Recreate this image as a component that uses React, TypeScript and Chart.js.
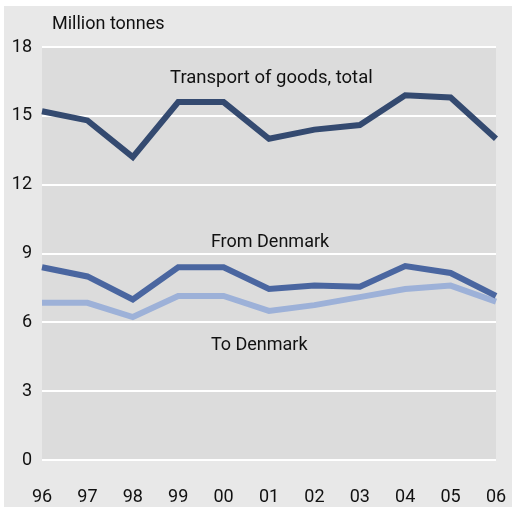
import React, { useEffect, useRef } from "react";
import { Chart, registerables } from "chart.js";

Chart.register(...registerables);

const years = ["96", "97", "98", "99", "00", "01", "02", "03", "04", "05", "06"];
const totalGoods = [15.2, 14.8, 13.2, 15.6, 15.6, 14.0, 14.4, 14.6, 15.9, 15.8, 14.0];
const fromDenmark = [8.4, 8.0, 7.0, 8.4, 8.4, 7.45, 7.6, 7.55, 8.45, 8.15, 7.15];
const toDenmark = [6.85, 6.85, 6.23, 7.15, 7.15, 6.5, 6.75, 7.1, 7.45, 7.6, 6.9];
const yTicks = [0, 3, 6, 9, 12, 15, 18];

const FONT = "Roboto";

const bgPlugin = {
  id: "bgPlugin",
  beforeDraw(chart: any) {
    const { ctx, chartArea } = chart;
    ctx.save();
    ctx.fillStyle = "#ffffff";
    ctx.fillRect(0, 0, chart.width, chart.height);
    ctx.fillStyle = "#e8e8e8";
    ctx.fillRect(4, 6, 508, 501);
    ctx.fillStyle = "#dcdcdc";
    ctx.fillRect(chartArea.left, chartArea.top, chartArea.right - chartArea.left, chartArea.bottom - chartArea.top);
    ctx.restore();
  },
  afterDatasetsDraw(chart: any) {
    const { ctx } = chart;
    const xs = chart.scales.x;
    const ys = chart.scales.y;
    ctx.save();
    ctx.fillStyle = "#111111";
    ctx.font = `18px ${FONT}`;
    ctx.textBaseline = "middle";
    ctx.textAlign = "left";
    ctx.fillText("Million tonnes", 52, 24);
    const lbl = (t: string, xi: number, yv: number, size: number) => {
      ctx.font = `${size}px ${FONT}`;
      const x = xs.left + (xs.right - xs.left) * (xi / (years.length - 1));
      ctx.fillText(t, x, ys.getPixelForValue(yv));
    };
    lbl("Transport of goods, total", 2.82, 16.65, 18.5);
    lbl("From Denmark", 3.72, 9.5, 18);
    lbl("To Denmark", 3.72, 5.0, 18);
    ctx.restore();
  },
};

export default function App() {
  const ref = useRef<HTMLCanvasElement>(null);
  useEffect(() => {
    if (!ref.current) return;
    const chart = new Chart(ref.current, {
      type: "line",
      data: {
        labels: years,
        datasets: [
          { label: "Transport of goods, total", data: totalGoods, borderColor: "#344a70" },
          { label: "From Denmark", data: fromDenmark, borderColor: "#4a66a0" },
          { label: "To Denmark", data: toDenmark, borderColor: "#9db1d8" },
        ].map((d) => ({
          ...d,
          borderWidth: 6,
          pointRadius: 0,
          tension: 0,
          fill: false,
          borderJoinStyle: "miter" as const,
          borderCapStyle: "butt" as const,
        })),
      },
      options: {
        animation: false,
        responsive: false,
        maintainAspectRatio: false,
        layout: { padding: { top: 47, right: 20, left: 0, bottom: 0 } },
        plugins: { legend: { display: false }, tooltip: { enabled: false } },
        scales: {
          x: {
            grid: { display: false },
            border: { display: false },
            offset: false,
            ticks: { color: "#111", font: { family: FONT, size: 18 }, padding: 19, maxRotation: 0, autoSkip: false },
            afterFit(scale: any) {
              scale.height = 49;
              scale.paddingLeft = 0;
              scale.paddingRight = 0;
            },
          },
          y: {
            min: 0,
            max: 18,
            afterBuildTicks(scale: any) {
              scale.ticks = yTicks.map((v) => ({ value: v }));
            },
            grid: { color: "#ffffff", lineWidth: 2, drawTicks: false },
            border: { display: false },
            ticks: { color: "#111", font: { family: FONT, size: 18 }, padding: 10 },
            afterFit(scale: any) {
              scale.width = 42;
              scale.paddingTop = 0;
              scale.paddingBottom = 0;
            },
          },
        },
      },
      plugins: [bgPlugin],
    });
    return () => chart.destroy();
  }, []);
  return (
    <div style={{ position: "fixed", left: 0, top: 0, width: 516, height: 509 }}>
      <canvas ref={ref} width={516} height={509} style={{ width: 516, height: 509 }} />
    </div>
  );
}
